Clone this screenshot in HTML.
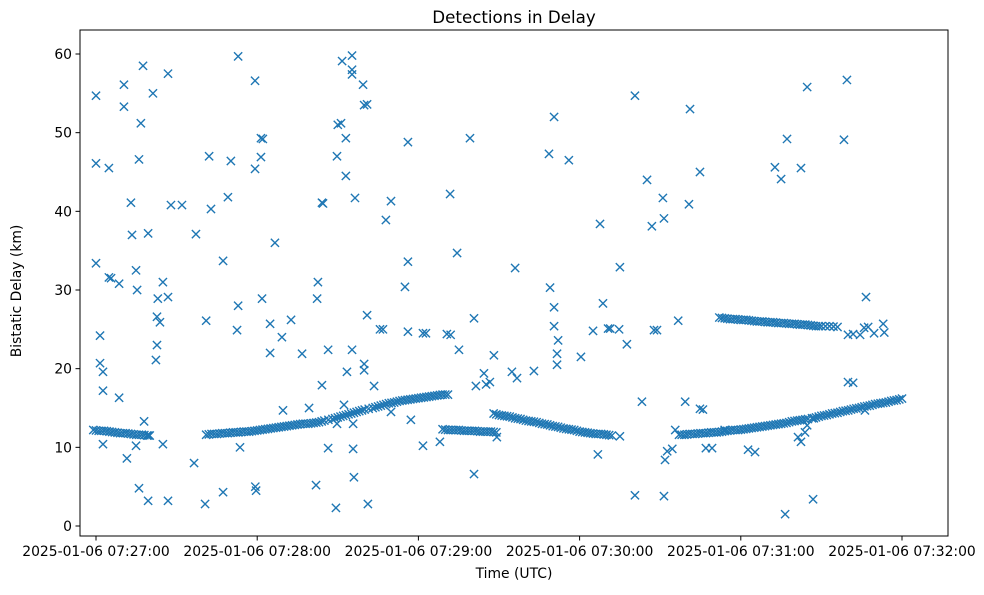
<!DOCTYPE html>
<html><head><meta charset="utf-8"><style>
body{margin:0;background:#fff;}
svg text{font-family:"DejaVu Sans","Liberation Sans",sans-serif;fill:#000;}
</style></head><body>
<svg id="chart" width="984" height="590" viewBox="0 0 984 590" xmlns="http://www.w3.org/2000/svg">
<rect width="984" height="590" fill="#fff"/>
<text x="514" y="23" font-size="16.7" text-anchor="middle">Detections in Delay</text>
<g id="marks"></g>
<g id="axes"></g>
<rect x="80" y="30" width="868" height="506" fill="none" stroke="#000" stroke-width="1"/>
<text x="514" y="578" font-size="13.9" text-anchor="middle">Time (UTC)</text>
<text transform="translate(21,291) rotate(-90)" font-size="13.9" text-anchor="middle">Bistatic Delay (km)</text>
</svg>
<script>
// seconds after 2025-01-06 07:27:00
const xTickValues=[0,60,120,180,240,300];
const xTickLabels=["2025-01-06 07:27:00","2025-01-06 07:28:00","2025-01-06 07:29:00","2025-01-06 07:30:00","2025-01-06 07:31:00","2025-01-06 07:32:00"];
const yTickValues=[0,10,20,30,40,50,60];
const trackTimes=[-1,1,3,5,7,9,11,13,15,17,19,20,
41,43,45,47,49,51,53,55,57,59,61,63,65,67,69,71,73,75,77,79,81,83,85,88,90,92,94,96,98,100,103,105,107,109,111,113,115,117,119,121,123,125,127,129,131,
129,131,133,135,137,139,141,143,145,147,149,
148,150,152,154,156,158,160,162,164,166,168,170,172,174,176,178,180,182,184,186,188,190,192,
217,219,221,223,225,227,229,231,233,235,237,239,241,243,245,247,249,251,253,255,257,259,261,263,265,268,270,272,274,276,278,280,282,284,286,288,290,292,294,296,298,300,
232,234,236,238,240,242,244,246,248,250,252,254,256,258,260,262,264,266,268,270,273,276];
const trackDelays=[12.2,12.1,12.1,12.0,11.9,11.8,11.8,11.7,11.6,11.6,11.5,11.5,
11.6,11.7,11.7,11.8,11.8,11.9,11.9,12.0,12.0,12.1,12.2,12.3,12.4,12.5,12.6,12.7,12.8,12.9,13.0,13.0,13.1,13.2,13.4,13.6,13.8,14.0,14.2,14.4,14.6,14.8,15.0,15.2,15.4,15.6,15.7,15.9,16.0,16.1,16.2,16.3,16.4,16.5,16.6,16.7,16.7,
12.3,12.2,12.2,12.2,12.1,12.1,12.1,12.0,12.0,12.0,11.9,
14.3,14.1,14.0,13.9,13.7,13.6,13.4,13.3,13.2,13.0,12.9,12.7,12.6,12.4,12.3,12.2,12.0,11.9,11.8,11.7,11.7,11.6,11.5,
11.6,11.6,11.7,11.7,11.8,11.8,11.9,11.9,12.0,12.1,12.2,12.2,12.3,12.4,12.5,12.6,12.7,12.8,12.9,13.0,13.1,13.3,13.4,13.5,13.6,13.8,14.0,14.1,14.3,14.4,14.6,14.7,14.9,15.0,15.2,15.3,15.5,15.6,15.7,15.9,16.0,16.2,
26.5,26.4,26.3,26.3,26.2,26.2,26.1,26.0,26.0,25.9,25.9,25.8,25.8,25.7,25.7,25.6,25.6,25.5,25.4,25.4,25.4,25.3];
const scatterTimes=[0,0,0,1.5,1.5,2.6,2.6,2.6,4.8,4.8,5.6,8.6,8.6,10.4,10.4,11.5,13,13.4,14.9,15.3,16,16.7,16,14.9,17.5,17.9,19.4,19.4,21.2,22.3,22.7,22.7,23.8,23,24.9,26.8,26.8,27.9,24.9,26.8,32,37.2,36.5,40.6,41,42.1,42.8,47.3,47.3,49.1,50.2,52.5,52.9,52.9,53.6,59.3,59.6,59.2,59.2,61.4,61.4,62.1,61.8,64.8,64.8,66.6,69.2,69.6,72.6,76.7,79.3,81.9,82.3,82.6,84.1,84.1,84.5,86.4,86.4,89.7,89.3,89.7,90,91.2,91.6,92.3,93,93,93.4,95.3,95.3,95.3,95.3,95.7,95.7,96,96.4,99.4,99.8,100.9,99.8,99.8,101.2,100.9,103.5,105.7,106.8,107.9,109.8,109.8,115,116.1,116.1,117.2,116.1,121.7,122.8,121.7,128,130.6,132,131.8,134.4,135.1,139.2,140.7,140.7,141.4,144.4,145.2,146.6,148.1,149.2,156,154.8,156.7,163,168.6,170.5,169,170.5,170.5,172,171.6,171.6,176,180.5,186.8,187.6,188.7,190.6,191.4,185,195,194.7,195,197.6,200.6,200.6,203.2,205.1,207.7,208.8,206.9,211,211.4,211.4,211.8,212.6,214.5,215.6,216.7,219.3,220.7,221.1,224.8,225.9,224.8,227,229.3,234,242.7,245.3,252.7,255,257.2,256.5,262.4,264.7,261.3,262.4,263.9,264.7,266.9,267.2,278.4,279.5,279.9,281.8,279.9,281.8,284.4,286.6,285.9,287.4,289.6,293,293.4,286.2];
const scatterDelays=[54.7,46.1,33.4,24.2,20.7,19.6,17.2,10.4,45.5,31.6,31.5,30.8,16.3,56.1,53.3,8.6,41.1,37,32.5,30,46.6,51.2,4.8,10.2,58.5,13.3,3.2,37.2,55,21.1,23,26.6,25.9,28.9,31.0,29.1,57.5,40.8,10.4,3.2,40.8,37.1,8.0,2.8,26.1,47.0,40.3,4.3,33.7,41.8,46.4,24.9,28,59.7,10.0,5.0,4.5,56.6,45.4,46.9,49.3,49.2,28.9,25.7,22,36,24,14.7,26.2,21.9,15,5.2,28.9,31,17.9,41.1,41.0,22.4,9.9,13,2.3,47,51,51.2,59.1,15.4,44.5,49.3,19.6,22.4,59.8,58,57.4,9.8,13,6.2,41.7,56.1,53.5,53.6,20.6,19.8,2.8,26.8,17.8,25,25,38.9,41.3,14.5,30.4,33.6,48.8,13.5,24.7,24.5,24.5,10.2,10.7,24.4,24.3,42.2,34.7,22.4,49.3,26.4,6.6,17.8,19.4,18,18.3,21.7,11.3,32.8,19.6,18.8,19.7,47.3,52,30.3,27.8,25.4,23.6,21.9,20.5,46.5,21.5,9.1,38.4,28.3,25.1,25.1,24.8,32.9,25,11.4,23.1,3.9,54.7,15.8,44,24.9,24.9,38.1,41.7,39.1,3.8,8.4,9.5,9.8,12.2,26.1,15.8,40.9,53,14.9,14.8,45,9.9,9.9,12.2,9.7,9.4,45.6,44.1,49.2,1.5,45.5,55.8,11.3,10.7,11.9,12.8,3.4,13.7,49.1,56.7,18.3,18.2,24.3,24.4,24.3,29.1,25.2,25.3,24.5,25.7,24.6,14.7];

const X0=96, PXS=161.2/60, Y0=526, PYK=472/60;
const xs=t=>X0+t*PXS;
const ys=d=>Y0-d*PYK;
const NS='http://www.w3.org/2000/svg';
const marks=document.getElementById('marks');
const axes=document.getElementById('axes');
function mk(tag,attrs,parent){const e=document.createElementNS(NS,tag);for(const k in attrs)e.setAttribute(k,attrs[k]);parent.appendChild(e);return e;}
function drawX(t,d){
  const cx=xs(t),cy=ys(d),r=4.1;
  const p=mk('path',{d:`M${cx-r},${cy-r}L${cx+r},${cy+r}M${cx-r},${cy+r}L${cx+r},${cy-r}`,stroke:'#1f77b4','stroke-width':1.4,fill:'none'},marks);
  
  
}
trackTimes.forEach((t,i)=>{
  drawX(t,trackDelays[i]);
  const nt=trackTimes[i+1];
  if(nt!==undefined && nt>t && nt-t<=4){drawX((t+nt)/2,(trackDelays[i]+trackDelays[i+1])/2);}
});
scatterTimes.forEach((t,i)=>drawX(t,scatterDelays[i]));
xTickValues.forEach((v,i)=>{
  const x=xs(v);
  const l=mk('line',{x1:x,x2:x,y1:536,y2:540.5,stroke:'#000','stroke-width':1},axes);
  
  
  const tx=mk('text',{x:x,y:556,'font-size':13.9,'text-anchor':'middle'},axes);
  tx.textContent=xTickLabels[i];
  
  
});
yTickValues.forEach(v=>{
  const y=ys(v);
  const l=mk('line',{x1:75.5,x2:80,y1:y,y2:y,stroke:'#000','stroke-width':1},axes);
  
  
  const tx=mk('text',{x:72,y:y+5,'font-size':13.9,'text-anchor':'end'},axes);
  tx.textContent=String(v);
  
  
});
</script>
</body></html>
